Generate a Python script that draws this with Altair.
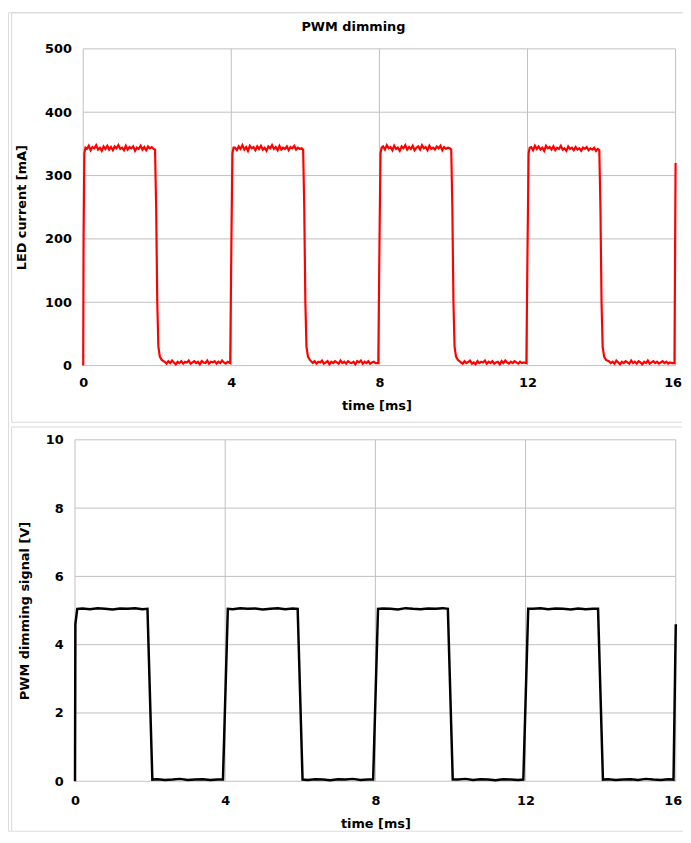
import altair as alt
import pandas as pd

# ---------------- data ----------------
led_time_ms = [
    # cycle 1
    0.00, 0.01, 0.03, 0.06,
    0.10, 0.15, 0.20, 0.25, 0.30, 0.35, 0.40, 0.45, 0.50, 0.55, 0.60, 0.65, 0.70, 0.75, 0.80, 0.85,
    0.90, 0.95, 1.00, 1.05, 1.10, 1.15, 1.20, 1.25, 1.30, 1.35, 1.40, 1.45, 1.50, 1.55, 1.60, 1.65,
    1.70, 1.75, 1.80, 1.85, 1.90,
    1.94, 1.97, 2.00, 2.03, 2.07, 2.12,
    2.20, 2.25, 2.30, 2.35, 2.40, 2.45, 2.50, 2.55, 2.60, 2.65, 2.70, 2.75, 2.80, 2.85, 2.90, 2.95,
    3.00, 3.05, 3.10, 3.15, 3.20, 3.25, 3.30, 3.35, 3.40, 3.45, 3.50, 3.55, 3.60, 3.65, 3.70, 3.75,
    3.80, 3.85, 3.90, 3.97,
    # cycle 2
    4.00, 4.03, 4.06,
    4.10, 4.15, 4.20, 4.25, 4.30, 4.35, 4.40, 4.45, 4.50, 4.55, 4.60, 4.65, 4.70, 4.75, 4.80, 4.85,
    4.90, 4.95, 5.00, 5.05, 5.10, 5.15, 5.20, 5.25, 5.30, 5.35, 5.40, 5.45, 5.50, 5.55, 5.60, 5.65,
    5.70, 5.75, 5.80, 5.85, 5.90,
    5.94, 5.97, 6.00, 6.03, 6.07, 6.12,
    6.20, 6.25, 6.30, 6.35, 6.40, 6.45, 6.50, 6.55, 6.60, 6.65, 6.70, 6.75, 6.80, 6.85, 6.90, 6.95,
    7.00, 7.05, 7.10, 7.15, 7.20, 7.25, 7.30, 7.35, 7.40, 7.45, 7.50, 7.55, 7.60, 7.65, 7.70, 7.75,
    7.80, 7.85, 7.90, 7.97,
    # cycle 3
    8.00, 8.03, 8.06,
    8.10, 8.15, 8.20, 8.25, 8.30, 8.35, 8.40, 8.45, 8.50, 8.55, 8.60, 8.65, 8.70, 8.75, 8.80, 8.85,
    8.90, 8.95, 9.00, 9.05, 9.10, 9.15, 9.20, 9.25, 9.30, 9.35, 9.40, 9.45, 9.50, 9.55, 9.60, 9.65,
    9.70, 9.75, 9.80, 9.85, 9.90,
    9.94, 9.97, 10.00, 10.03, 10.07, 10.12,
    10.20, 10.25, 10.30, 10.35, 10.40, 10.45, 10.50, 10.55, 10.60, 10.65, 10.70, 10.75, 10.80, 10.85,
    10.90, 10.95, 11.00, 11.05, 11.10, 11.15, 11.20, 11.25, 11.30, 11.35, 11.40, 11.45, 11.50, 11.55,
    11.60, 11.65, 11.70, 11.75, 11.80, 11.85, 11.90, 11.97,
    # cycle 4
    12.00, 12.03, 12.06,
    12.10, 12.15, 12.20, 12.25, 12.30, 12.35, 12.40, 12.45, 12.50, 12.55, 12.60, 12.65, 12.70, 12.75,
    12.80, 12.85, 12.90, 12.95, 13.00, 13.05, 13.10, 13.15, 13.20, 13.25, 13.30, 13.35, 13.40, 13.45,
    13.50, 13.55, 13.60, 13.65, 13.70, 13.75, 13.80, 13.85, 13.90,
    13.94, 13.97, 14.00, 14.03, 14.07, 14.12,
    14.20, 14.25, 14.30, 14.35, 14.40, 14.45, 14.50, 14.55, 14.60, 14.65, 14.70, 14.75, 14.80, 14.85,
    14.90, 14.95, 15.00, 15.05, 15.10, 15.15, 15.20, 15.25, 15.30, 15.35, 15.40, 15.45, 15.50, 15.55,
    15.60, 15.65, 15.70, 15.75, 15.80, 15.85, 15.90, 15.97,
    16.00,
]
led_current_ma = [
    # cycle 1
    0, 200, 335, 344,
    342, 347, 340, 345, 343, 348, 341, 344, 339, 346, 342, 347, 341, 345, 340, 346,
    343, 348, 342, 344, 340, 347, 341, 345, 343, 346, 339, 344, 342, 347, 341, 345,
    340, 346, 343, 345, 342,
    341, 250, 100, 30, 14, 9,
    6, 3, 7, 4, 8, 5, 2, 6, 4, 7, 3, 6, 5, 8, 3, 5,
    7, 4, 6, 2, 7, 5, 4, 8, 3, 6, 5, 7, 3, 6, 4, 8,
    5, 3, 6, 4,
    # cycle 2
    180, 335, 344,
    344, 340, 346, 342, 348, 341, 345, 339, 347, 343, 345, 340, 346, 342, 347, 341,
    344, 339, 346, 343, 348, 342, 345, 340, 347, 341, 344, 342, 346, 340, 345, 343,
    347, 341, 344, 342, 343,
    341, 250, 100, 30, 14, 9,
    4, 7, 3, 6, 5, 8, 3, 5, 7, 2, 6, 4, 7, 5, 3, 8,
    4, 6, 3, 7, 5, 4, 6, 2, 7, 5, 8, 3, 6, 4, 7, 3,
    5, 6, 4, 4,
    # cycle 3
    180, 335, 344,
    346, 341, 348, 343, 345, 340, 347, 342, 344, 339, 346, 343, 348, 341, 345, 342,
    347, 340, 344, 346, 341, 348, 343, 345, 340, 347, 342, 344, 341, 346, 343, 347,
    340, 345, 342, 344, 343,
    341, 250, 100, 30, 14, 9,
    5, 3, 7, 4, 6, 8, 3, 5, 2, 7, 4, 6, 5, 8,
    3, 6, 4, 7, 3, 5, 6, 2, 7, 4, 8, 5, 3, 6,
    4, 7, 5, 3, 6, 4, 5, 4,
    # cycle 4
    180, 335, 344,
    345, 340, 347, 342, 346, 341, 344, 339, 347, 343, 345, 341, 346, 340, 344, 342,
    347, 341, 343, 339, 346, 342, 344, 340, 345, 341, 343, 339, 344, 342, 345, 340,
    343, 341, 344, 339, 342,
    340, 250, 100, 30, 14, 9,
    7, 4, 6, 3, 8, 5, 2, 6, 4, 7, 5, 3, 8, 4,
    6, 3, 7, 5, 2, 6, 4, 8, 3, 5, 7, 4, 6, 3,
    5, 7, 4, 6, 3, 5, 4, 4,
    320,
]

pwm_time_ms = [
    0.00, 0.01, 0.06, 0.20, 0.40, 0.60, 0.80, 1.00, 1.20, 1.40, 1.60, 1.80, 1.93, 2.06,
    2.20, 2.40, 2.60, 2.80, 3.00, 3.20, 3.40, 3.60, 3.80, 3.94,
    4.07, 4.20, 4.40, 4.60, 4.80, 5.00, 5.20, 5.40, 5.60, 5.80, 5.93, 6.06,
    6.20, 6.40, 6.60, 6.80, 7.00, 7.20, 7.40, 7.60, 7.80, 7.94,
    8.07, 8.20, 8.40, 8.60, 8.80, 9.00, 9.20, 9.40, 9.60, 9.80, 9.93, 10.06,
    10.20, 10.40, 10.60, 10.80, 11.00, 11.20, 11.40, 11.60, 11.80, 11.94,
    12.07, 12.20, 12.40, 12.60, 12.80, 13.00, 13.20, 13.40, 13.60, 13.80, 13.93, 14.06,
    14.20, 14.40, 14.60, 14.80, 15.00, 15.20, 15.40, 15.60, 15.80, 15.94,
    16.00,
]
pwm_signal_v = [
    0.00, 4.60, 5.05, 5.06, 5.04, 5.07, 5.05, 5.03, 5.06, 5.05, 5.07, 5.04, 5.05, 0.05,
    0.06, 0.04, 0.05, 0.07, 0.04, 0.05, 0.06, 0.04, 0.05, 0.05,
    5.05, 5.04, 5.07, 5.05, 5.06, 5.03, 5.05, 5.07, 5.04, 5.06, 5.05, 0.05,
    0.04, 0.06, 0.05, 0.03, 0.06, 0.05, 0.07, 0.04, 0.05, 0.05,
    5.05, 5.06, 5.05, 5.03, 5.07, 5.05, 5.04, 5.06, 5.05, 5.07, 5.05, 0.05,
    0.05, 0.07, 0.04, 0.06, 0.05, 0.03, 0.06, 0.05, 0.04, 0.05,
    5.05, 5.05, 5.07, 5.04, 5.06, 5.05, 5.03, 5.06, 5.04, 5.05, 5.05, 0.05,
    0.06, 0.04, 0.05, 0.06, 0.04, 0.07, 0.05, 0.04, 0.06, 0.05,
    4.60,
]

time_ticks = [0, 4, 8, 12, 16]
led_ticks = [0, 100, 200, 300, 400, 500]
pwm_ticks = [0, 2, 4, 6, 8, 10]

chart_title = "PWM dimming"
led_axis_title = "LED current  [mA]"
pwm_axis_title = "PWM dimming signal  [V]"
time_axis_title = "time  [ms]"

# ---------------- layout / styling ----------------
FONT = "DejaVu Sans"
FS = 13
GRID = "#c0c0c0"
FRAME = "#d9d9d9"
TOTAL_W, TOTAL_H = 682, 827

# plot rectangles in svg pixels
TOP_X0, TOP_X1, TOP_Y0, TOP_Y1 = 76, 674.5, 37, 357
BOT_X0, BOT_X1, BOT_Y0, BOT_Y1 = 67.7, 674.7, 432, 777

led_df = pd.DataFrame({"t": led_time_ms, "v": led_current_ma})
pwm_df = pd.DataFrame({"t": pwm_time_ms, "v": pwm_signal_v})
time_tick_df = pd.DataFrame({"t": time_ticks})
led_tick_df = pd.DataFrame({"v": led_ticks})
pwm_tick_df = pd.DataFrame({"v": pwm_ticks})


def make_axis(values, title, **kw):
    return alt.Axis(
        values=values, title=title, grid=False, domain=False, ticks=False, tickSize=0,
        labelFlush=False, labelOverlap=False, format="d",
        labelFont=FONT, labelFontSize=FS, labelFontWeight="bold", labelColor="black",
        titleFont=FONT, titleFontSize=FS, titleFontWeight="bold", titleColor="black",
        titleBaseline="middle", titleAlign="center",
        **kw,
    )


# keep the last time label ("16") inside the page edge
last_label_shift = alt.condition(f"datum.value == {time_ticks[-1]}", alt.value(-3), alt.value(0))

# scales
top_x_scale = alt.Scale(domain=[0, 16], range=[TOP_X0, TOP_X1], nice=False, zero=False)
top_y_scale = alt.Scale(domain=[0, 500], range=[TOP_Y1, TOP_Y0], nice=False, zero=False)
bot_x_scale = alt.Scale(domain=[0, 16], range=[BOT_X0, BOT_X1], nice=False, zero=False)
bot_y_scale = alt.Scale(domain=[0, 10], range=[BOT_Y1, BOT_Y0], nice=False, zero=False)

# axes (moved into place with offsets)
top_x_axis = make_axis(time_ticks, time_axis_title, orient="bottom", offset=TOP_Y1 - TOTAL_H,
                       labelPadding=17, labelBaseline="middle", labelOffset=last_label_shift,
                       titleX=(TOP_X0 + TOP_X1) / 2 - 3, titleY=40)
top_y_axis = make_axis(led_ticks, led_axis_title, orient="left", offset=-TOP_X0,
                       labelPadding=12, titleX=-62, titleY=(TOP_Y0 + TOP_Y1) / 2)
bot_x_axis = make_axis(time_ticks, time_axis_title, orient="bottom", offset=BOT_Y1 - TOTAL_H,
                       labelPadding=19, labelBaseline="middle", labelOffset=last_label_shift,
                       titleX=(BOT_X0 + BOT_X1) / 2, titleY=43)
bot_y_axis = make_axis(pwm_ticks, pwm_axis_title, orient="left", offset=-BOT_X0,
                       labelPadding=12, titleX=-51, titleY=(BOT_Y0 + BOT_Y1) / 2)

# ---- frames and title ----
one = alt.Data(values=[{}])
frame = alt.Chart(one).mark_rule(color=FRAME, strokeWidth=1)
frames = alt.layer(
    frame.encode(x=alt.value(3.7), y=alt.value(0.5), y2=alt.value(414.3)),
    frame.encode(x=alt.value(3.7), x2=alt.value(681), y=alt.value(0.5)),
    frame.encode(x=alt.value(3.7), x2=alt.value(681), y=alt.value(414.3)),
    frame.encode(x=alt.value(3.7), y=alt.value(419), y2=alt.value(TOTAL_H)),
    frame.encode(x=alt.value(3.7), x2=alt.value(681), y=alt.value(419)),
    alt.Chart(one).mark_text(
        text=chart_title, font=FONT, fontSize=FS, fontWeight="bold", color="black",
        align="center", baseline="middle",
    ).encode(x=alt.value(349), y=alt.value(15)),
)

# ---- top panel ----
top_vgrid = alt.Chart(time_tick_df).mark_rule(color=GRID, strokeWidth=1).encode(
    x=alt.X("t:Q", scale=top_x_scale, axis=top_x_axis),
    y=alt.datum(led_ticks[0], scale=top_y_scale), y2=alt.datum(led_ticks[-1]),
)
top_hgrid = alt.Chart(led_tick_df).mark_rule(color=GRID, strokeWidth=1).encode(
    y=alt.Y("v:Q", scale=top_y_scale, axis=top_y_axis),
    x=alt.datum(time_ticks[0], scale=top_x_scale), x2=alt.datum(time_ticks[-1]),
)
led_line = alt.Chart(led_df).mark_line(color="#ff0000", strokeWidth=2.2).encode(
    x=alt.X("t:Q", scale=top_x_scale, axis=top_x_axis),
    y=alt.Y("v:Q", scale=top_y_scale, axis=top_y_axis),
)
top_panel = alt.layer(top_vgrid, top_hgrid, led_line)

# ---- bottom panel ----
bot_vgrid = alt.Chart(time_tick_df).mark_rule(color=GRID, strokeWidth=1).encode(
    x=alt.X("t:Q", scale=bot_x_scale, axis=bot_x_axis),
    y=alt.datum(pwm_ticks[0], scale=bot_y_scale), y2=alt.datum(pwm_ticks[-1]),
)
bot_hgrid = alt.Chart(pwm_tick_df).mark_rule(color=GRID, strokeWidth=1).encode(
    y=alt.Y("v:Q", scale=bot_y_scale, axis=bot_y_axis),
    x=alt.datum(time_ticks[0], scale=bot_x_scale), x2=alt.datum(time_ticks[-1]),
)
pwm_line = alt.Chart(pwm_df).mark_line(color="black", strokeWidth=2.5).encode(
    x=alt.X("t:Q", scale=bot_x_scale, axis=bot_x_axis),
    y=alt.Y("v:Q", scale=bot_y_scale, axis=bot_y_axis),
)
bottom_panel = alt.layer(bot_vgrid, bot_hgrid, pwm_line)

chart = (
    alt.layer(frames, top_panel, bottom_panel)
    .resolve_scale(x="independent", y="independent")
    .resolve_axis(x="independent", y="independent")
    .properties(
        width=TOTAL_W, height=TOTAL_H,
        autosize=alt.AutoSizeParams(type="none"),
        padding={"left": 0, "top": 0, "right": 0, "bottom": 0},
    )
    .configure_view(strokeOpacity=0)
    .configure(background="white")
)

chart.save("out.html", embed_options={"renderer": "svg", "actions": False})
